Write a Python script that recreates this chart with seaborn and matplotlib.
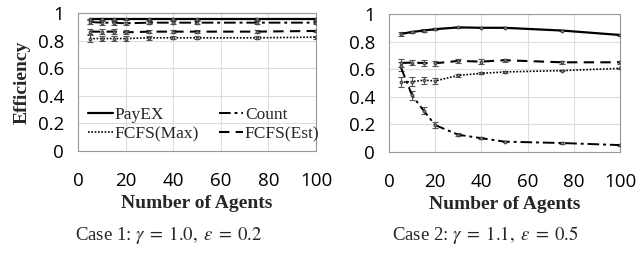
import numpy as np
import pandas as pd
import matplotlib
matplotlib.use("Agg")
import matplotlib.pyplot as plt
from matplotlib.lines import Line2D
import seaborn as sns

agents = [5, 10, 15, 20, 30, 40, 50, 75, 100]
series = ["PayEX", "Count", "FCFS(Max)", "FCFS(Est)"]

# Case 1
c1_payex = [0.955, 0.955, 0.955, 0.955, 0.955, 0.955, 0.955, 0.955, 0.955]
c1_count = [0.935, 0.93, 0.93, 0.925, 0.93, 0.93, 0.93, 0.93, 0.93]
c1_max = [0.815, 0.815, 0.815, 0.815, 0.82, 0.82, 0.82, 0.82, 0.825]
c1_est = [0.865, 0.865, 0.865, 0.86, 0.865, 0.865, 0.865, 0.865, 0.87]
c1_err_payex = [0.005] * 9
c1_err_count = [0.015, 0.015, 0.015, 0.012, 0.01, 0.01, 0.01, 0.01, 0.01]
c1_err_max = [0.025, 0.02, 0.02, 0.02, 0.015, 0.01, 0.01, 0.01, 0.01]
c1_err_est = [0.02, 0.02, 0.02, 0.015, 0.012, 0.01, 0.01, 0.01, 0.01]

# Case 2
c2_payex = [0.855, 0.87, 0.88, 0.89, 0.903, 0.9, 0.9, 0.88, 0.848]
c2_count = [0.62, 0.41, 0.30, 0.195, 0.125, 0.10, 0.075, 0.065, 0.05]
c2_max = [0.505, 0.51, 0.52, 0.515, 0.555, 0.57, 0.58, 0.59, 0.606]
c2_est = [0.645, 0.648, 0.645, 0.643, 0.66, 0.655, 0.665, 0.65, 0.65]
c2_err_payex = [0.012, 0.008, 0.008, 0.006, 0.005, 0.005, 0.005, 0.005, 0.005]
c2_err_count = [0.03, 0.03, 0.025, 0.02, 0.01, 0.008, 0.006, 0.005, 0.005]
c2_err_max = [0.035, 0.03, 0.025, 0.02, 0.012, 0.008, 0.006, 0.006, 0.006]
c2_err_est = [0.03, 0.02, 0.02, 0.02, 0.015, 0.02, 0.012, 0.012, 0.012]

captions = ["Case 1: $\\gamma\\;=\\;1.0,\\;\\varepsilon\\;=\\;0.2$",
            "Case 2: $\\gamma\\;=\\;1.1,\\;\\varepsilon\\;=\\;0.5$"]

sns.set_theme(style="white")
plt.rcParams["font.family"] = ["Open Sans", "DejaVu Sans"]
plt.rcParams["mathtext.fontset"] = "stix"

styles = {"PayEX": "-", "Count": (0, (6, 2, 1.5, 2)), "FCFS(Max)": (0, (1, 1)),
          "FCFS(Est)": (0, (5, 3))}
widths = {"PayEX": 1.6, "Count": 1.4, "FCFS(Max)": 1.2, "FCFS(Est)": 1.5}

fig = plt.figure(figsize=(6.36, 2.54), dpi=100)
ax1 = fig.add_axes([78/636, 1-151/254, 238/636, 138/254])
ax2 = fig.add_axes([389/636, 1-152/254, 231/636, 138/254])

cases = [
    (ax1, [c1_payex, c1_count, c1_max, c1_est], [c1_err_payex, c1_err_count, c1_err_max, c1_err_est]),
    (ax2, [c2_payex, c2_count, c2_max, c2_est], [c2_err_payex, c2_err_count, c2_err_max, c2_err_est]),
]

serif = ["Liberation Serif", "DejaVu Serif"]

for i, (ax, vals, errs) in enumerate(cases):
    rows = []
    for s, v in zip(series, vals):
        for a, y in zip(agents, v):
            rows.append({"agents": a, "eff": y, "series": s})
    df = pd.DataFrame(rows)
    for s, v, e in zip(series, vals, errs):
        ax.errorbar(agents, v, yerr=e, fmt="none", ecolor="#555555", elinewidth=0.8,
                    capsize=2, capthick=0.8, zorder=2)
        sub = df[df["series"] == s]
        sns.lineplot(data=sub, x="agents", y="eff", ax=ax, color="black",
                     linestyle=styles[s], linewidth=widths[s], marker="o",
                     markersize=2.0, markerfacecolor="#888888", markeredgecolor="#444444",
                     legend=False, zorder=3)
    ax.set_xlim(0, 100)
    ax.set_ylim(0, 1)
    ax.set_xticks([0, 20, 40, 60, 80, 100])
    ax.set_yticks([0, 0.2, 0.4, 0.6, 0.8, 1])
    ax.set_yticklabels(["0", "0.2", "0.4", "0.6", "0.8", "1"])
    ax.grid(True, color="#dddddd", linewidth=0.8)
    ax.set_axisbelow(True)
    for sp in ax.spines.values():
        sp.set_color("#999999")
        sp.set_linewidth(0.8)
    ax.tick_params(axis="x", length=0, pad=15, labelsize=13.5, colors="black")
    ax.tick_params(axis="y", length=0, pad=10, labelsize=13.5, colors="black")
    ax.set_xlabel("Number of Agents", family=serif, fontweight="bold", fontsize=14, labelpad=4)
    if i == 0:
        ax.set_ylabel("Efficiency", family=serif, fontweight="bold", fontsize=14, labelpad=5)
        order = ["PayEX", "FCFS(Max)", "Count", "FCFS(Est)"]
        handles = [Line2D([], [], color="black", linestyle=styles[s], linewidth=widths[s])
                   for s in order]
        ax.legend(handles, order, ncol=2, frameon=False, loc="lower left",
                  bbox_to_anchor=(0.0, -0.01),
                  prop={"family": serif, "size": 12.5}, handlelength=1.4, handletextpad=0.1,
                  columnspacing=1.15, labelspacing=0.15, borderaxespad=0.2)
    else:
        ax.set_ylabel("")

fig.text(169/636, 1-235/254, captions[0], ha="center", va="center", family=serif, fontsize=13.5)
fig.text(485/636, 1-235/254, captions[1], ha="center", va="center", family=serif, fontsize=13.5)

fig.savefig("out.png", dpi=100)
